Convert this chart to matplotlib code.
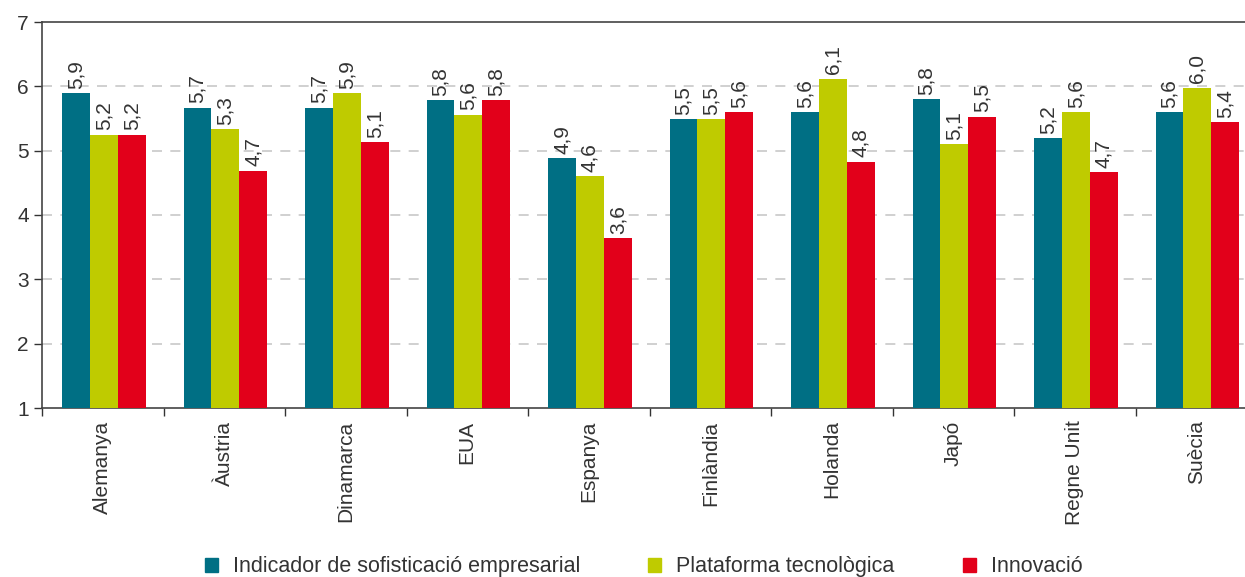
import matplotlib.pyplot as plt
from matplotlib.patches import Patch
import numpy as np

# countries and the three indicator series
paisos = ["Alemanya", "Àustria", "Dinamarca", "EUA", "Espanya",
          "Finlàndia", "Holanda", "Japó", "Regne Unit", "Suècia"]
sofisticacio = [5.89, 5.67, 5.67, 5.78, 4.89, 5.49, 5.60, 5.80, 5.20, 5.60]
plataforma = [5.25, 5.34, 5.89, 5.56, 4.61, 5.49, 6.12, 5.10, 5.60, 5.98]
innovacio = [5.25, 4.69, 5.13, 5.78, 3.64, 5.60, 4.83, 5.53, 4.67, 5.44]
series_names = ["Indicador de sofisticació empresarial",
                "Plataforma tecnològica", "Innovació"]
y_ticks = [1, 2, 3, 4, 5, 6, 7]

colors = ["#006f84", "#bfcb00", "#e2001a"]
txt = "#333333"

plt.rcParams['font.family'] = ['Liberation Sans', 'DejaVu Sans']

fig = plt.figure(figsize=(12.45, 5.77), dpi=100)
# axes runs past the right edge, like the cropped original
ax = fig.add_axes([42 / 1245, 169 / 577, 1215 / 1245, 386 / 577])

x = np.arange(len(paisos))
w = 0.23
all_series = [sofisticacio, plataforma, innovacio]
for k, (vals, col, name) in enumerate(zip(all_series, colors, series_names)):
    pos = x + (k - 1) * w + 0.01
    heights = np.array(vals) - 1
    ax.bar(pos, heights, width=w, bottom=1, color=col, label=name, zorder=3)
    for xp, v in zip(pos, vals):
        ax.annotate(f"{v:.1f}".replace(".", ","), (xp, v), xytext=(0, 3),
                    textcoords="offset points", rotation=90, ha="center",
                    va="bottom", fontsize=15, color=txt)

ax.set_ylim(1, 7)
ax.set_xlim(-0.5, len(paisos) - 0.5)
ax.set_yticks(y_ticks)
ax.tick_params(axis="y", labelsize=15, colors=txt, length=6, width=1)
for g in y_ticks[1:-1]:
    ax.axhline(g, color="#c8c8c8", linestyle=(0, (6, 5)), linewidth=1.2, zorder=1)

# tick marks between groups, labels at group centres
ax.set_xticks(np.arange(-0.5, len(paisos), 1.0))
ax.set_xticklabels([])
ax.tick_params(axis="x", which="major", length=6, width=1, colors=txt)
ax.set_xticks(x, minor=True)
ax.set_xticklabels(paisos, minor=True, rotation=90, fontsize=15, color=txt)
ax.tick_params(axis="x", which="minor", length=0, pad=9)

for s in ax.spines.values():
    s.set_color("#444444")
    s.set_linewidth(1.2)

# legend entries sit in fixed columns
legend_x = [205 / 1245, 648 / 1245, 963 / 1245]
for name, col, lx in zip(series_names, colors, legend_x):
    fig.legend(handles=[Patch(color=col, label=name)], loc="center left",
               bbox_to_anchor=(lx, 0.018), frameon=False, fontsize=15.5,
               handlelength=0.62, handleheight=0.62, handletextpad=0.7,
               borderpad=0, borderaxespad=0, labelcolor=txt)

fig.savefig("out.png", dpi=100)
